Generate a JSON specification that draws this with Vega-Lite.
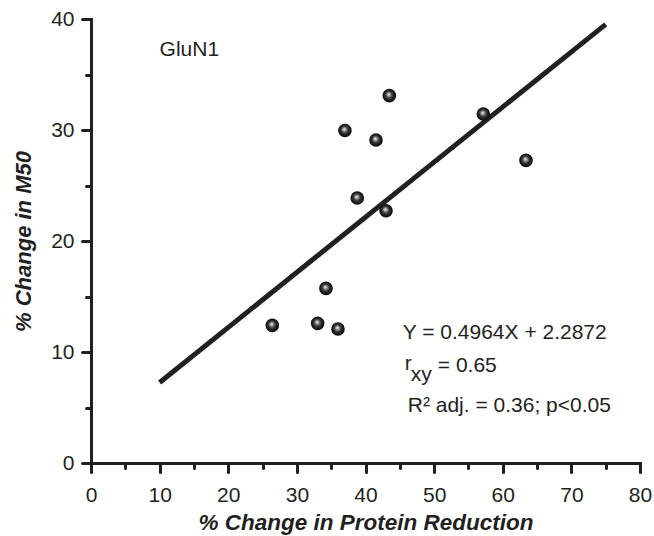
{
  "$schema": "https://vega.github.io/schema/vega-lite/v6.json",
  "width": 549,
  "height": 444,
  "autosize": {"type": "none"},
  "padding": {"left": 91, "top": 19, "right": 14, "bottom": 73},
  "background": "white",
  "config": {"view": {"stroke": null}, "font": "Liberation Sans"},
  "datasets": {
    "points": [
      {"x": 43.47, "y": 33.1},
      {"x": 37.0, "y": 29.96},
      {"x": 41.53, "y": 29.1},
      {"x": 57.17, "y": 31.44},
      {"x": 63.39, "y": 27.26},
      {"x": 38.8, "y": 23.87},
      {"x": 42.99, "y": 22.73},
      {"x": 34.24, "y": 15.73},
      {"x": 26.42, "y": 12.4},
      {"x": 33.03, "y": 12.58},
      {"x": 35.99, "y": 12.07}
    ],
    "fit": [
      {"x": 10, "y": 7.25},
      {"x": 75, "y": 39.52}
    ],
    "notes": [
      {"x": 9.99, "y": 36.67, "label": "GluN1"},
      {"x": 45.43, "y": 11.17, "label": "Y = 0.4964X + 2.2872"},
      {"x": 45.73, "y": 8.38, "label": "r"},
      {"x": 46.6, "y": 7.39, "label": "xy"},
      {"x": 50.54, "y": 8.2, "label": "= 0.65"},
      {"x": 46.16, "y": 4.55, "label": "R² adj. = 0.36; p<0.05"}
    ]
  },
  "encoding": {
    "x": {
      "field": "x",
      "type": "quantitative",
      "scale": {"domain": [0, 80], "nice": false, "zero": false},
      "axis": {
        "title": "% Change in Protein Reduction",
        "values": [0, 5, 10, 15, 20, 25, 30, 35, 40, 45, 50, 55, 60, 65, 70, 75, 80],
        "labelExpr": "datum.value % 10 === 0 ? datum.label : ''",
        "tickSize": {"expr": "datum.value % 10 === 0 ? 9 : 5"},
        "tickWidth": 3,
        "tickCap": "round",
        "tickColor": "#231f20",
        "domainWidth": 3,
        "domainColor": "#231f20",
        "domainCap": "square",
        "grid": false,
        "labelFont": "Liberation Sans",
        "labelFontSize": 21,
        "labelColor": "#231f20",
        "labelPadding": 12,
        "labelFlush": false,
        "labelOverlap": false,
        "titleFont": "Liberation Sans",
        "titleFontSize": 22.5,
        "titleFontWeight": "bold",
        "titleFontStyle": "italic",
        "titleColor": "#231f20",
        "titlePadding": 6
      }
    },
    "y": {
      "field": "y",
      "type": "quantitative",
      "scale": {"domain": [0, 40], "nice": false, "zero": false},
      "axis": {
        "title": "% Change in M50",
        "values": [0, 5, 10, 15, 20, 25, 30, 35, 40],
        "labelExpr": "datum.value % 10 === 0 ? datum.label : ''",
        "tickSize": {"expr": "datum.value % 10 === 0 ? 9 : 5"},
        "tickWidth": 3,
        "tickCap": "round",
        "tickColor": "#231f20",
        "domainWidth": 3,
        "domainColor": "#231f20",
        "domainCap": "square",
        "grid": false,
        "labelFont": "Liberation Sans",
        "labelFontSize": 21,
        "labelColor": "#231f20",
        "labelPadding": 8,
        "labelFlush": false,
        "labelOverlap": false,
        "titleFont": "Liberation Sans",
        "titleFontSize": 22,
        "titleFontWeight": "bold",
        "titleFontStyle": "italic",
        "titleColor": "#231f20",
        "titlePadding": 15
      }
    }
  },
  "layer": [
    {
      "data": {"name": "fit"},
      "mark": {"type": "line", "color": "#231f20", "strokeWidth": 5, "strokeCap": "butt", "clip": false}
    },
    {
      "data": {"name": "points"},
      "mark": {
        "type": "point",
        "shape": "circle",
        "filled": true,
        "size": 185,
        "opacity": 1,
        "strokeWidth": 0,
        "fill": {
          "gradient": "radial",
          "x1": 0.45, "y1": 0.4, "r1": 0,
          "x2": 0.5, "y2": 0.5, "r2": 0.55,
          "stops": [
            {"offset": 0, "color": "#ffffff"},
            {"offset": 0.15, "color": "#b8b8b8"},
            {"offset": 0.45, "color": "#3a3a3a"},
            {"offset": 0.8, "color": "#111111"},
            {"offset": 1, "color": "#000000"}
          ]
        }
      }
    },
    {
      "data": {"name": "notes"},
      "mark": {
        "type": "text",
        "align": "left",
        "baseline": "alphabetic",
        "font": "Liberation Sans",
        "fontSize": 21,
        "color": "#231f20"
      },
      "encoding": {"text": {"field": "label", "type": "nominal"}}
    }
  ]
}
